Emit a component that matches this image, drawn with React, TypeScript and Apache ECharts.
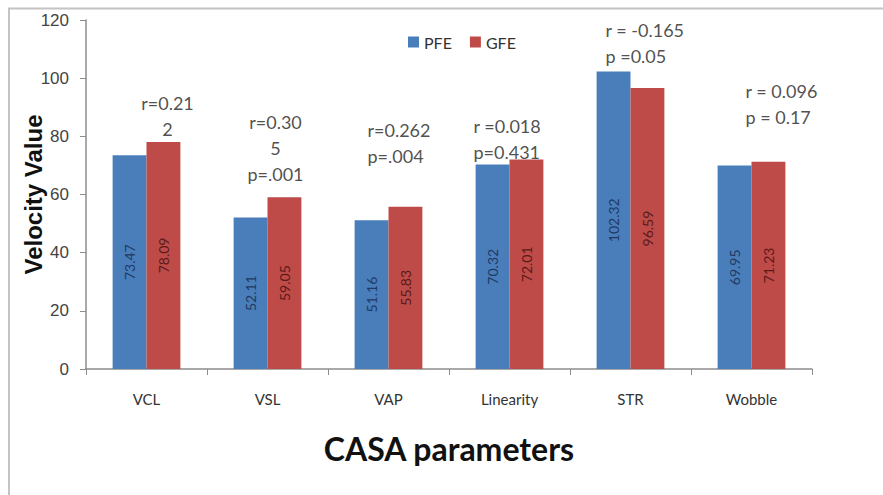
import React, { useEffect, useRef } from "react";
import * as echarts from "echarts";

const categories = ["VCL", "VSL", "VAP", "Linearity", "STR", "Wobble"];
const pfeValues = [73.47, 52.11, 51.16, 70.32, 102.32, 69.95];
const gfeValues = [78.09, 59.05, 55.83, 72.01, 96.59, 71.23];
const annotations = [
  "r=0.21\n2",
  "r=0.30\n5\np=.001",
  "r=0.262\np=.004",
  "r =0.018\np=0.431",
  "r = -0.165\np =0.05",
  "r = 0.096\np = 0.17",
];
const annotationY = [87, 76, 77.7, 79, 112, 91];
const annotationAlign = ["center", "center", "left", "left", "left", "left"];
const annotationOffsetX = [21, 8, -21, -36, -25, -6];
const yTicks = { min: 0, max: 120, interval: 20 };

export default function App() {
  const ref = useRef<HTMLDivElement>(null);
  useEffect(() => {
    document.body.style.margin = "0";
    const chart = echarts.init(ref.current!, null, { renderer: "svg" });
    const annData = annotations.map((t, i) => ({
      value: [i, annotationY[i]],
      label: {
        formatter: t,
        align: annotationAlign[i],
        offset: [annotationOffsetX[i], 0],
      },
    }));
    chart.setOption({
      animation: false,
      backgroundColor: "#fff",
      graphic: [
        {
          type: "polyline",
          shape: { points: [[9, 495], [9, 8.5], [883, 8.5]] },
          style: { stroke: "#c4c4c4", lineWidth: 2, fill: "none" },
          silent: true,
        },
      ],
      legend: {
        data: ["PFE", "GFE"],
        left: 403,
        top: 29,
        itemWidth: 11,
        itemHeight: 11,
        itemGap: 18,
        icon: "rect",
        textStyle: { fontFamily: "Lato", fontSize: 16, color: "#333" },
      },
      grid: { left: 86, right: 71, top: 20, bottom: 126, containLabel: false },
      xAxis: {
        type: "category",
        data: categories,
        axisLine: { lineStyle: { color: "#8c8c8c", width: 1.5 } },
        axisTick: { show: true, length: 6, lineStyle: { color: "#8c8c8c" } },
        axisLabel: { fontFamily: "Lato", fontSize: 15, color: "#333", margin: 22 },
        name: "CASA parameters",
        nameLocation: "middle",
        nameGap: 63,
        nameMoveOverlap: false,
        nameTextStyle: { fontFamily: "Lato", fontWeight: "bold", fontSize: 32, color: "#111" },
      },
      yAxis: {
        type: "value",
        min: yTicks.min,
        max: yTicks.max,
        interval: yTicks.interval,
        splitLine: { show: false },
        axisLine: { show: true, lineStyle: { color: "#8c8c8c", width: 1.5 } },
        axisTick: { show: true, length: 6, lineStyle: { color: "#8c8c8c" } },
        axisLabel: { fontFamily: "Liberation Sans", fontSize: 17, color: "#444", margin: 17 },
        name: "Velocity Value",
        nameLocation: "middle",
        nameGap: 41,
        nameMoveOverlap: false,
        nameTextStyle: { fontFamily: "Liberation Sans", fontWeight: "bold", fontSize: 24, color: "#111" },
      },
      series: [
        {
          name: "PFE",
          type: "bar",
          data: pfeValues,
          barGap: "0%",
          barCategoryGap: "44%",
          itemStyle: { color: "#4a7ebb" },
          label: {
            show: true,
            position: "inside",
            rotate: 90,
            fontFamily: "Lato",
            fontSize: 14,
            color: "#1f3a64",
            formatter: (p: any) => p.value.toFixed(2),
          },
        },
        {
          name: "GFE",
          type: "bar",
          data: gfeValues,
          itemStyle: { color: "#be4b48" },
          label: {
            show: true,
            position: "inside",
            rotate: 90,
            fontFamily: "Lato",
            fontSize: 14,
            color: "#5a1a1a",
            formatter: (p: any) => p.value.toFixed(2),
          },
        },
        {
          name: "annotations",
          type: "scatter",
          symbolSize: 0,
          silent: true,
          data: annData,
          label: {
            show: true,
            position: "inside",
            fontFamily: "Lato",
            fontSize: 18,
            lineHeight: 26,
            color: "#222",
          },
        },
      ],
    });
    return () => chart.dispose();
  }, []);
  return <div ref={ref} style={{ width: 883, height: 495 }} />;
}
